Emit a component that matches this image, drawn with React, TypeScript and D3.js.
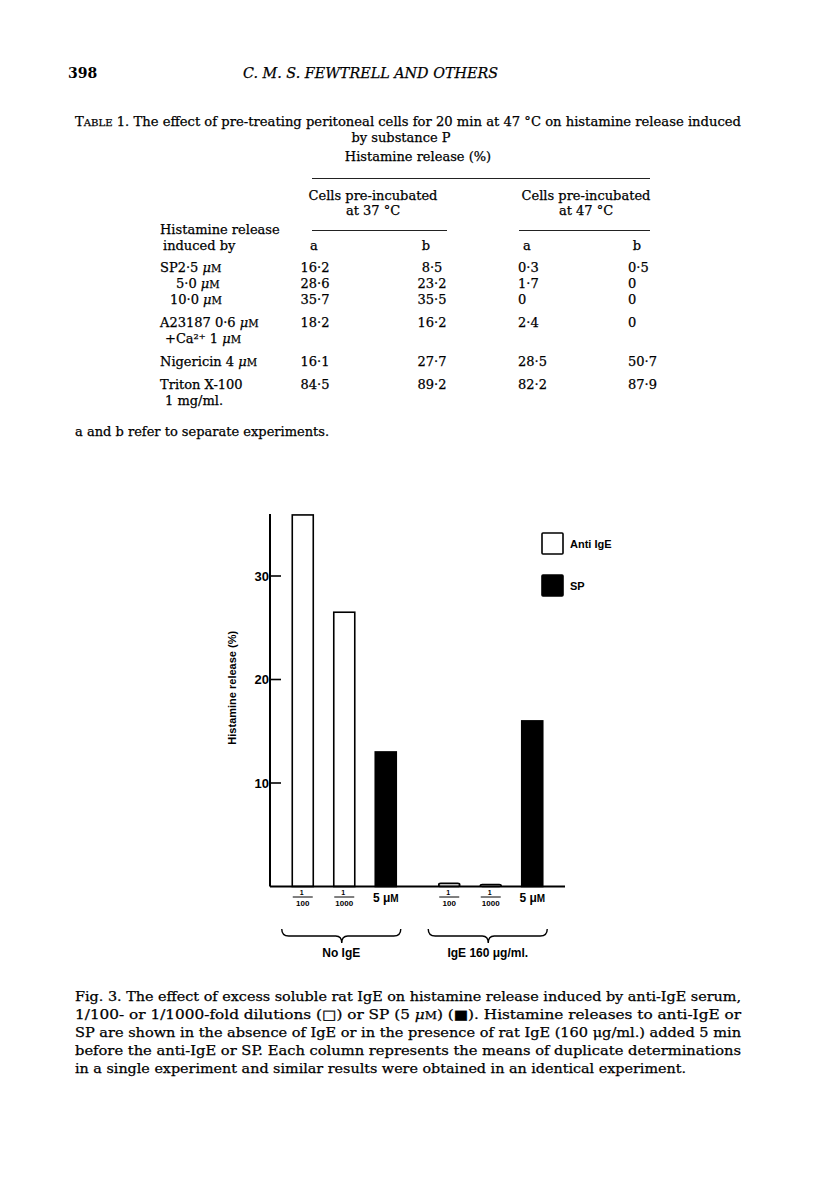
import React from 'react';
import * as d3 from 'd3';

// ---------- Page text ----------
const pageNumber = '398';
const runningHead = 'C. M. S. FEWTRELL AND OTHERS';
const tableCaptionLine1 = ' 1. The effect of pre-treating peritoneal cells for 20 min at 47 °C on histamine release induced';
const tableCaptionLine2 = 'by substance P';
const tableSuperHeader = 'Histamine release (%)';
const colGroupHeaders = [['Cells pre-incubated', 'at 37 °C'], ['Cells pre-incubated', 'at 47 °C']];
const stubHeader = ['Histamine release', 'induced by'];
const subColumns = ['a', 'b', 'a', 'b'];

// ---------- Table data ----------
const rowLabels = ['SP2·5 μM', '5·0 μM', '10·0 μM', 'A23187 0·6 μM', 'Nigericin 4 μM', 'Triton X-100'];
const rowSubLabels = ['', '', '', '+Ca²⁺ 1 μM', '', '1 mg/ml.'];
const col37a = ['16·2', '28·6', '35·7', '18·2', '16·1', '84·5'];
const col37b = ['8·5', '23·2', '35·5', '16·2', '27·7', '89·2'];
const col47a = ['0·3', '1·7', '0', '2·4', '28·5', '82·2'];
const col47b = ['0·5', '0', '0', '0', '50·7', '87·9'];
const tableFootnote = 'a and b refer to separate experiments.';

// ---------- Chart data ----------
const groups = ['No IgE', 'IgE 160 μg/ml.'];
const treatments = ['1/100', '1/1000', '5 μM'];
const releaseNoIgE = [35.9, 26.5, 13.0];
const releaseWithIgE = [0.3, 0.2, 16.0];
const yTicks = [10, 20, 30];
const yLabel = 'Histamine release (%)';
const legendLabels = ['Anti IgE', 'SP'];

// ---------- Figure caption ----------
const figCaption = [
  'Fig. 3. The effect of excess soluble rat IgE on histamine release induced by anti-IgE serum,',
  '1/100- or 1/1000-fold dilutions (□) or SP (5 μM) (■). Histamine releases to anti-IgE or',
  'SP are shown in the absence of IgE or in the presence of rat IgE (160 μg/ml.) added 5 min',
  'before the anti-IgE or SP. Each column represents the means of duplicate determinations',
  'in a single experiment and similar results were obtained in an identical experiment.',
];

const SERIF = "'DejaVu Serif', serif";
const SANS = "'Liberation Sans', Arial, sans-serif";
const INK = { stroke: '#000', strokeWidth: 0.25 };

function withSmallCapsM(text: string, size: number) {
  const parts = text.split('μM');
  const out: React.ReactNode[] = [];
  parts.forEach((p, i) => {
    out.push(<tspan key={'p' + i}>{p}</tspan>);
    if (i < parts.length - 1) {
      out.push(<tspan key={'m' + i} fontStyle="italic">μ</tspan>);
      out.push(<tspan key={'M' + i} fontSize={size * 0.78}>M</tspan>);
    }
  });
  return out;
}

export default function App() {
  // chart scales
  const x0 = 270, x1 = 565, yBase = 886.5, yTop = 513.9;
  const y = d3.scaleLinear().domain([0, 36]).range([yBase, yTop]);
  const outer = d3.scalePoint<string>().domain(groups).range([x0, x1]).padding(0.507);
  const inner = d3.scalePoint<string>().domain(treatments).range([-41.5, 41.5]);
  const barW = 21;
  const series = [releaseNoIgE, releaseWithIgE];

  const bars = groups.flatMap((g, gi) =>
    treatments.map((t, ti) => ({ g, t, ti, v: series[gi][ti], cx: (outer(g) as number) + (inner(t) as number) }))
  );

  const bracePath = (cx: number) => {
    const a = cx - 60, b = cx + 59, yEnd = 929, yMid = 936, yTip = 943;
    return `M${a},${yEnd} Q${a},${yMid} ${a + 7},${yMid} L${cx - 6},${yMid} Q${cx},${yMid} ${cx},${yTip} Q${cx},${yMid} ${cx + 6},${yMid} L${b - 7},${yMid} Q${b},${yMid} ${b},${yEnd}`;
  };

  // table layout
  const rowY = [272, 288, 304, 327, 366, 389];
  const subRowDy = 16;
  const colX = [315, 432, 518, 628];
  const colAnchor = ['middle', 'middle', 'start', 'start'];
  const subHeadX = [314, 426, 527, 637];
  const labelIndent = [160, 176, 170, 160, 160, 160];
  const cols = [col37a, col37b, col47a, col47b];

  return (
    <svg width={816} height={1181} style={{ position: 'absolute', left: 0, top: 0, background: '#fff' }}>
      <rect width={816} height={1181} fill="#fff" />
      {/* header */}
      <text x={68} y={78} fontFamily={SERIF} fontWeight="bold" fontSize={14}>{pageNumber}</text>
      <text x={243} y={78} fontFamily={SERIF} fontStyle="italic" fontSize={15} textLength={255} lengthAdjust="spacingAndGlyphs" {...INK}>{runningHead}</text>

      <g fontFamily={SERIF} fontSize={13} {...INK}>
        {/* table caption */}
        <text x={75} y={126} textLength={666} lengthAdjust="spacingAndGlyphs">
          <tspan>T</tspan><tspan fontSize={10}>ABLE</tspan><tspan>{tableCaptionLine1}</tspan>
        </text>
        <text x={401} y={142} textAnchor="middle">{tableCaptionLine2}</text>
        <text x={418} y={161} textAnchor="middle">{tableSuperHeader}</text>

        {colGroupHeaders.map((h, i) => (
          <g key={'gh' + i}>
            <text x={i === 0 ? 373 : 586} y={200} textAnchor="middle">{h[0]}</text>
            <text x={i === 0 ? 373 : 586} y={215} textAnchor="middle">{h[1]}</text>
          </g>
        ))}
        <text x={160} y={234}>{stubHeader[0]}</text>
        <text x={163} y={250}>{stubHeader[1]}</text>
        {subColumns.map((s, i) => (
          <text key={'sc' + i} x={subHeadX[i]} y={250} textAnchor="middle">{s}</text>
        ))}

        {rowLabels.map((lab, r) => (
          <g key={'row' + r}>
            <text x={labelIndent[r]} y={rowY[r]}>{withSmallCapsM(lab, 13)}</text>
            {rowSubLabels[r] && (
              <text x={165} y={rowY[r] + subRowDy}>{withSmallCapsM(rowSubLabels[r], 13)}</text>
            )}
            {cols.map((c, ci) => (
              <text key={'c' + ci} x={colX[ci]} y={rowY[r]} textAnchor={colAnchor[ci] as any}>{c[r]}</text>
            ))}
          </g>
        ))}
        <text x={75} y={436}>{tableFootnote}</text>

        {/* figure caption */}
        {figCaption.map((line, i) => (
          <text key={'fc' + i} x={75} y={1001 + i * 18}
            textLength={i < 4 ? 666 : 611} lengthAdjust="spacingAndGlyphs">{withSmallCapsM(line, 13)}</text>
        ))}
      </g>

      {/* rules */}
      <line x1={312} x2={650} y1={178.5} y2={178.5} stroke="#222" strokeWidth={1.2} />
      <line x1={312} x2={447} y1={230.5} y2={230.5} stroke="#222" strokeWidth={1.2} />
      <line x1={519} x2={650} y1={230.5} y2={230.5} stroke="#222" strokeWidth={1.2} />

      {/* ---------- chart ---------- */}
      <g>
        {bars.map((b, i) => (
          <rect key={'bar' + i} x={b.cx - barW / 2} y={y(b.v)} width={barW} height={yBase - y(b.v)}
            fill={b.ti === 2 ? '#000' : '#fff'} stroke="#000" strokeWidth={1.6} rx={b.v < 1 ? 2 : 0} />
        ))}
        {/* axes */}
        <line x1={x0} x2={x0} y1={yTop} y2={yBase} stroke="#000" strokeWidth={2} />
        <line x1={x0} x2={x1} y1={yBase} y2={yBase} stroke="#000" strokeWidth={2} />
        {yTicks.map((t) => (
          <g key={'yt' + t}>
            <line x1={x0} x2={x0 + 11} y1={y(t)} y2={y(t)} stroke="#000" strokeWidth={1.6} />
            <text x={x0 - 1} y={y(t) + 4.5} fontFamily={SANS} fontWeight="bold" fontSize={13} textAnchor="end">{t}</text>
          </g>
        ))}
        <text transform={`translate(236,${y(19.2)}) rotate(-90)`} fontFamily={SANS} fontWeight="bold" fontSize={11} textAnchor="middle">{yLabel}</text>

        {/* x labels */}
        {bars.map((b, i) => {
          if (b.t.includes('/')) {
            const [num, den] = b.t.split('/');
            return (
              <g key={'xl' + i}>
                <line x1={b.cx - 10} x2={b.cx + 10} y1={897} y2={897} stroke="#000" strokeWidth={1} />
                <text x={b.cx - 1} y={894.5} fontFamily={SANS} fontWeight="bold" fontSize={7} textAnchor="middle">{num}</text>
                <text x={b.cx} y={905.5} fontFamily={SANS} fontWeight="bold" fontSize={8} textAnchor="middle">{den}</text>
              </g>
            );
          }
          return (
            <text key={'xl' + i} x={b.cx} y={902} fontFamily={SANS} fontWeight="bold" fontSize={12} textAnchor="middle">
              5 <tspan>μ</tspan><tspan fontSize={10}>M</tspan>
            </text>
          );
        })}

        {/* braces and group labels */}
        {groups.map((g) => (
          <g key={'br' + g}>
            <path d={bracePath((outer(g) as number) - 2.5)} fill="none" stroke="#000" strokeWidth={1.4} />
            <text x={(outer(g) as number) - 3} y={957} fontFamily={SANS} fontWeight="bold" fontSize={12} textAnchor="middle">{g}</text>
          </g>
        ))}

        {/* legend */}
        {legendLabels.map((l, i) => (
          <g key={'lg' + l}>
            <rect x={542} y={533 + i * 42} width={21} height={21} fill={i === 1 ? '#000' : '#fff'} stroke="#000" strokeWidth={1.6} rx={1} />
            <text x={570} y={548 + i * 42} fontFamily={SANS} fontWeight="bold" fontSize={11}>{l}</text>
          </g>
        ))}
      </g>
    </svg>
  );
}
